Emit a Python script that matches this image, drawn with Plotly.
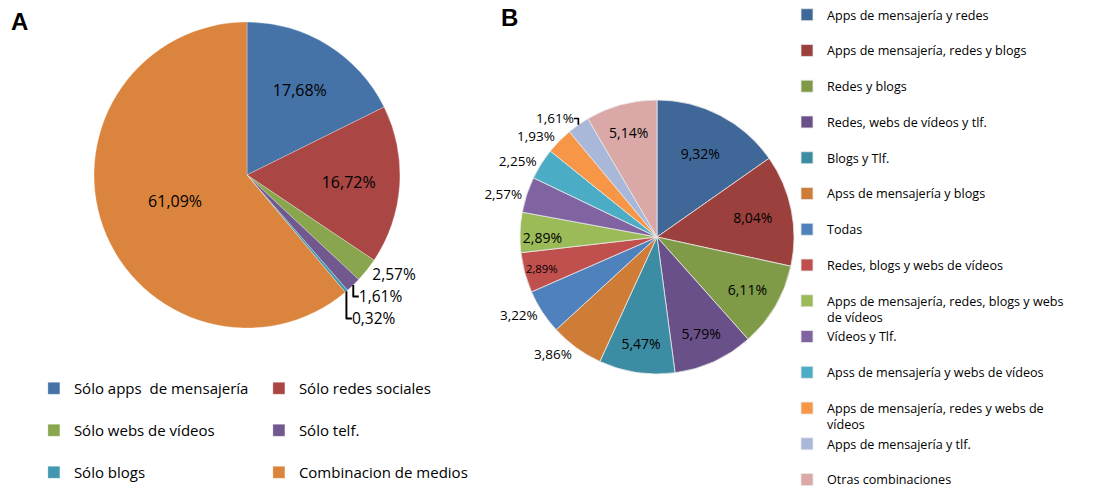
import plotly.graph_objects as go

# Pie A: medios usados
labels_a = ["Sólo apps  de mensajería", "Sólo redes sociales", "Sólo webs de vídeos",
            "Sólo telf.", "Sólo blogs", "Combinacion de medios"]
values_a = [17.68, 16.72, 2.57, 1.61, 0.32, 61.09]
colors_a = ["#4572A7", "#AA4643", "#89A54E", "#71588F", "#4198AF", "#DB843D"]

# Pie B: desglose de combinaciones
labels_b = ["Apps de mensajería y redes", "Apps de mensajería, redes y blogs", "Redes y blogs",
            "Redes, webs de vídeos y tlf.", "Blogs y Tlf.", "Apss de mensajería y blogs", "Todas",
            "Redes, blogs y webs de vídeos", "Apps de mensajería, redes, blogs y webs<br>de vídeos",
            "Vídeos y Tlf.", "Apss de mensajería y webs de vídeos",
            "Apps de mensajería, redes y webs de<br>vídeos", "Apps de mensajería y tlf.",
            "Otras combinaciones"]
values_b = [9.32, 8.04, 6.11, 5.79, 5.47, 3.86, 3.22, 2.89, 2.89, 2.57, 2.25, 1.93, 1.61, 5.14]
colors_b = ["#3F6898", "#9C403D", "#7F9B48", "#6A5089", "#3C8DA3", "#CF7C36", "#4F81BD",
            "#C0504D", "#9BBB59", "#8064A2", "#4BACC6", "#F79646", "#A9B8D8", "#D9A8A7"]
inside_b = [True, True, True, True, True, False, False, True, True, False, False, False, False, True]

FONT = "Open Sans"
W, H = 1096, 496
ML = 34  # left margin, legend A sits at the plot area's left edge
PW = W - ML


def px_x(a, b):
    return [(a - ML) / PW, (b - ML) / PW]


def px_y(top, bottom):
    return [1 - bottom / H, 1 - top / H]


# blank second line keeps every legend row the same height (last row stays single)
def pad(lbls, keep_last=1):
    out = []
    for i, l in enumerate(lbls):
        if "<br>" in l or i >= len(lbls) - keep_last:
            out.append(l)
        else:
            out.append(l + "<br> ")
    return out


fig = go.Figure()
fig.add_trace(go.Pie(
    labels=pad(labels_a, keep_last=2), values=values_a, sort=False, direction="clockwise",
    marker=dict(colors=colors_a, line=dict(color="white", width=0.3)),
    texttemplate="%{value:.2f}%",
    textposition=["inside" if v > 5 else "outside" for v in values_a],
    insidetextfont=dict(size=16, color="black"), outsidetextfont=dict(size=15.5, color="black"),
    domain=dict(x=px_x(94, 400), y=px_y(22, 328)),
    legend="legend", hoverinfo="label+value", insidetextorientation="horizontal",
))
fig.add_trace(go.Pie(
    labels=pad(labels_b), values=values_b, sort=False, direction="clockwise",
    marker=dict(colors=colors_b, line=dict(color="#E8E8E8", width=0.8)),
    texttemplate="%{value:.2f}%",
    textposition=["inside" if f else "outside" for f in inside_b],
    insidetextfont=dict(size=14, color="black"), outsidetextfont=dict(size=13.5, color="black"),
    domain=dict(x=px_x(520, 794), y=px_y(100, 374)),
    legend="legend2", hoverinfo="label+value", insidetextorientation="horizontal",
))

fig.update_layout(
    width=W, height=H,
    margin=dict(l=ML, r=0, t=0, b=0),
    paper_bgcolor="white", plot_bgcolor="white",
    separators=",.",
    font=dict(family=FONT, color="black"),
    legend=dict(orientation="h", x=-0.0001, xanchor="left", y=1 - 372 / H, yanchor="top",
                entrywidth=180, valign="top", bgcolor="rgba(0,0,0,0)",
                font=dict(size=15, family=FONT)),
    legend2=dict(orientation="v", x=(787 - ML) / PW, xanchor="left", y=1, yanchor="top",
                 valign="top", bgcolor="rgba(0,0,0,0)", font=dict(size=12.6, family=FONT)),
    annotations=[
        dict(text="<b>A</b>", x=(9 - ML) / PW, y=1 - 21 / H, xref="paper", yref="paper",
             showarrow=False, xanchor="left", yanchor="middle",
             font=dict(size=24, family="Liberation Sans")),
        dict(text="<b>B</b>", x=(499 - ML) / PW, y=1 - 17 / H, xref="paper", yref="paper",
             showarrow=False, xanchor="left", yanchor="middle",
             font=dict(size=24, family="Liberation Sans")),
    ],
)

# drop the page's default body margin so the chart sits at the window's corner
fig.write_html("out.html", config={"displayModeBar": False},
               post_script="document.body.style.margin = '0';")
